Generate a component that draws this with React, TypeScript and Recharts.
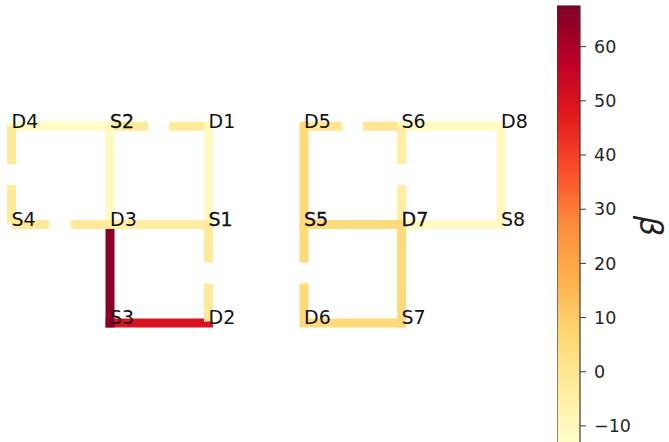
import { ComposedChart, Line, Scatter, XAxis, YAxis, BarChart, Bar } from 'recharts'

// nodes of the two networks (grid units)
const nodeNames = ['D4', 'S2', 'D1', 'S4', 'D3', 'S1', 'S3', 'D2', 'D5', 'S6', 'D8', 'S5', 'D7', 'S8', 'D6', 'S7']
const nodeX = [0, 1, 2, 0, 1, 2, 1, 2, 2.97, 3.96, 4.97, 2.97, 3.96, 4.97, 2.97, 3.96]
const nodeY = [0, 0, 0, 1, 1, 1, 2, 2, 0, 0, 0, 1, 1, 1, 2, 2]
// labels that were drawn twice in the original (look heavier)
const doubledLabels = ['S2', 'S1', 'S5', 'D7']

// edges, in drawing order
const edgeFrom = ['S3', 'D3', 'D4', 'D4', 'S2', 'S2', 'D1', 'S4', 'D3', 'S1', 'D5', 'D5', 'S6', 'S6', 'D8', 'S5', 'D7', 'S5', 'D7', 'D6']
const edgeTo = ['D2', 'S3', 'S2', 'S4', 'D1', 'D3', 'S1', 'D3', 'S1', 'D2', 'S6', 'S5', 'D8', 'D7', 'S8', 'D7', 'S8', 'D6', 'S7', 'S7']
const edgeBeta = [50, 66, -12, -2, -2, -11, -11, -2, -4, -2, 0, 6, -11, -4, -11, 5, -11, 6, 6, 6]
const edgeDashed = [false, false, false, true, true, false, false, true, false, true, true, false, false, true, false, false, false, true, false, false]

// colorbar
const betaMin = -13.8
const betaMax = 67.6
const betaTicks = [-10, 0, 10, 20, 30, 40, 50, 60]

const ylorrd = ['#ffffcc', '#ffeda0', '#fed976', '#feb24c', '#fd8d3c', '#fc4e2a', '#e31a1c', '#bd0026', '#800026']

function hexToRgb(h: string) {
  return [1, 3, 5].map(i => parseInt(h.slice(i, i + 2), 16))
}

function colorFor(v: number) {
  const t = Math.min(1, Math.max(0, (v - betaMin) / (betaMax - betaMin)))
  const p = t * (ylorrd.length - 1)
  const i = Math.min(ylorrd.length - 2, Math.floor(p))
  const f = p - i
  const a = hexToRgb(ylorrd[i])
  const b = hexToRgb(ylorrd[i + 1])
  const c = a.map((x, k) => Math.round(x + (b[k] - x) * f))
  return `rgb(${c[0]},${c[1]},${c[2]})`
}

const nodes = nodeNames.map((name, i) => ({ name, x: nodeX[i], y: nodeY[i] }))
const pos: Record<string, { x: number; y: number }> = {}
nodes.forEach(n => { pos[n.name] = { x: n.x, y: n.y } })

const edges = edgeFrom.map((a, i) => ({
  key: a + '-' + edgeTo[i],
  data: [pos[a], pos[edgeTo[i]]],
  color: colorFor(edgeBeta[i]),
  dashed: edgeDashed[i]
}))

const colorbarData = [{ name: 'beta', span: [betaMin, betaMax] }]

const NodeLabel = (props: any) => {
  const { cx, cy, payload } = props
  const heavy = doubledLabels.includes(payload.name)
  return (
    <text
      x={cx}
      y={cy + 1.5}
      fontSize={19}
      fontFamily="DejaVu Sans"
      fill="#111"
      stroke={heavy ? '#111' : 'none'}
      strokeWidth={heavy ? 0.3 : 0}
    >
      {payload.name}
    </text>
  )
}

const BetaLabel = (props: any) => {
  const { viewBox } = props
  const cx = viewBox.x + 71
  const cy = viewBox.y + viewBox.height / 2
  return (
    <text
      x={cx}
      y={cy}
      transform={`rotate(90 ${cx} ${cy})`}
      textAnchor="middle"
      dominantBaseline="central"
      fontSize={32}
      fontStyle="italic"
      fontFamily="DejaVu Sans"
      fill="#222"
    >
      β
    </text>
  )
}

export default function App() {
  return (
    <div style={{ position: 'absolute', left: 0, top: 0, width: 669, height: 442, overflow: 'hidden', background: '#fff' }}>
      <div style={{ position: 'absolute', left: 0, top: 0 }}>
        <ComposedChart width={669} height={442} margin={{ top: 0, right: 0, bottom: 0, left: 0 }}>
          <XAxis type="number" dataKey="x" hide domain={[-0.1168, 6.675]} allowDataOverflow />
          <YAxis type="number" dataKey="y" hide reversed domain={[-1.285, 3.2116]} allowDataOverflow />
          {edges.map(e => (
            <Line
              key={e.key}
              data={e.data}
              dataKey="y"
              type="linear"
              stroke={e.color}
              strokeWidth={9}
              strokeLinecap={e.dashed ? 'butt' : 'square'}
              strokeDasharray={e.dashed ? '38 21' : undefined}
              dot={false}
              activeDot={false}
              isAnimationActive={false}
            />
          ))}
          <Scatter data={nodes} shape={<NodeLabel />} isAnimationActive={false} />
        </ComposedChart>
      </div>
      <div style={{ position: 'absolute', left: 557, top: 0 }}>
        <BarChart
          width={112}
          height={460}
          data={colorbarData}
          margin={{ top: 5.5, right: 0, bottom: 13.5, left: 0 }}
          barCategoryGap={0}
        >
          <defs>
            <linearGradient id="ylorrd" x1="0" y1="1" x2="0" y2="0">
              {ylorrd.map((c, i) => (
                <stop key={c} offset={i / (ylorrd.length - 1)} stopColor={c} />
              ))}
            </linearGradient>
          </defs>
          <XAxis dataKey="name" hide />
          <YAxis
            orientation="right"
            type="number"
            width={89}
            domain={[betaMin, betaMax]}
            ticks={betaTicks}
            allowDataOverflow
            axisLine={false}
            tickSize={6}
            tickMargin={8}
            tickLine={{ stroke: '#333' }}
            tick={{ fontSize: 17.5, fill: '#262626', fontFamily: 'DejaVu Sans' }}
            tickFormatter={(v: number) => String(v).replace('-', '\u2212')}
            label={<BetaLabel />}
          />
          <Bar dataKey="span" fill="url(#ylorrd)" stroke="#3a3a3a" strokeWidth={1.2} isAnimationActive={false} />
        </BarChart>
      </div>
    </div>
  )
}
